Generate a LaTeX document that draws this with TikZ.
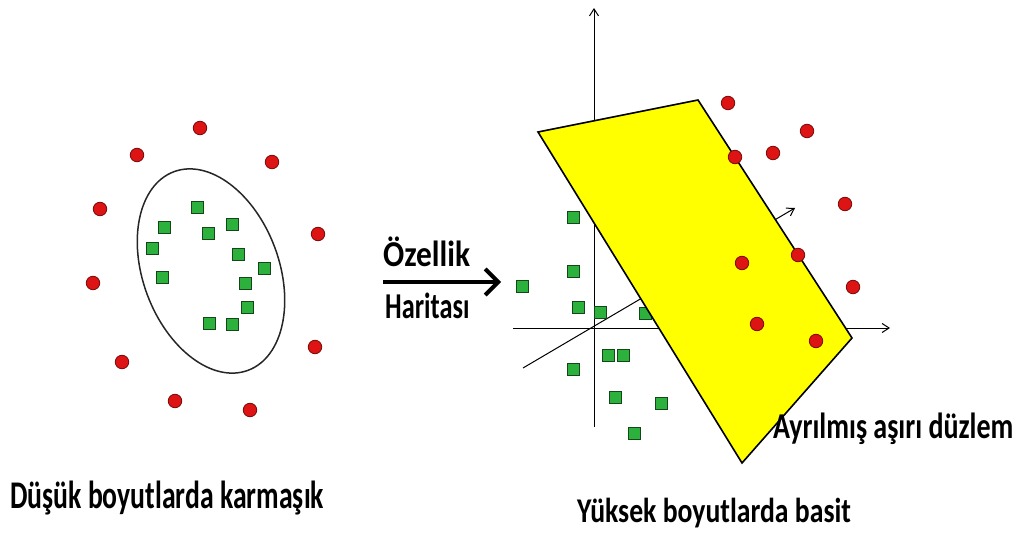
\documentclass[tikz,border=0pt]{standalone}
\usepackage{fontspec}
\setmainfont{Carlito}
\usetikzlibrary{arrows.meta}

\definecolor{dotred}{RGB}{222,20,20}
\definecolor{dotedge}{RGB}{120,10,10}
\definecolor{sqgreen}{RGB}{44,178,60}
\definecolor{sqedge}{RGB}{20,70,25}
\definecolor{planeyellow}{RGB}{255,255,0}

\tikzset{
  reddot/.style={circle, fill=dotred, draw=dotedge, line width=0.8pt,
                 minimum size=13.5pt, inner sep=0pt},
  greensq/.style={rectangle, fill=sqgreen, draw=sqedge, line width=0.8pt,
                  minimum size=12pt, inner sep=0pt},
  axisline/.style={line width=1pt, -{Straight Barb[length=7pt,width=9pt,line width=1pt]}},
  caption/.style={font=\bfseries\fontsize{28}{30}\selectfont, inner sep=0pt, anchor=base west},
  maparrow/.style={line width=4.5pt, -{Straight Barb[length=13pt,width=26pt,line width=4pt]}}
}

\begin{document}
\begin{tikzpicture}[x=1pt, y=-1pt]
\useasboundingbox (0,0) rectangle (1033,537);

% ---------- low-dimensional data ----------
\coordinate (ec) at (211,271);
\draw[line width=1.5pt, black!85, rotate around={110.5:(ec)}]
  (ec) ellipse [x radius=106pt, y radius=68pt];

\foreach \x/\y [count=\i] in {200/128, 137/155, 272/162, 100/209, 318/234,
                              93/283, 315/347, 122/362, 175/401, 250/410}
  \node[reddot] (lr\i) at (\x,\y) {};

\foreach \x/\y [count=\i] in {197/207, 164/227, 232/224, 208/233, 152/248, 238/254,
                              264/268, 162/277, 245/283, 247/307, 209/323, 232/324}
  \node[greensq] (lg\i) at (\x,\y) {};

% ---------- feature map arrow ----------
\coordinate (ms) at (383,282);
\coordinate (me) at (501,282);
\draw[maparrow] (ms) -- (me);
\node[caption] (fm1) at (383,267) {\scalebox{1.12}[1.3]{Özellik}};
\node[caption] (fm2) at (385,318) {\scalebox{0.94}[1.3]{Haritası}};

% ---------- high-dimensional space: axes ----------
\coordinate (o)  at (594,328);
\coordinate (zb) at (594,427);
\coordinate (zt) at (594,8);
\coordinate (xl) at (513,328);
\coordinate (xr) at (890,328);
\coordinate (dl) at (523,368);
\coordinate (dr) at (795,208);
\draw[axisline] (zb) -- (zt);
\draw[axisline] (xl) -- (xr);
\draw[axisline] (dl) -- (dr);

\foreach \x/\y [count=\i] in {573/217, 573/271, 522/286, 578/307, 600/312, 645/313,
                              608/355, 623/355, 573/369, 615/397, 661/403, 634/433}
  \node[greensq] (rg\i) at (\x,\y) {};

% ---------- separating hyperplane ----------
\coordinate (p1) at (538,132);
\coordinate (p2) at (698,100);
\coordinate (p3) at (852,338);
\coordinate (p4) at (742,463);
\draw[fill=planeyellow, line width=1.6pt, line join=miter] (p1) -- (p2) -- (p3) -- (p4) -- cycle;

\foreach \x/\y [count=\i] in {728/103, 807/131, 773/153, 735/157, 845/204,
                              798/255, 742/263, 853/287, 757/324, 816/341}
  \node[reddot] (rr\i) at (\x,\y) {};

% ---------- captions ----------
\node[caption] (hp)  at (773,438) {\scalebox{1}[1.3]{Ayrılmış aşırı düzlem}};
\node[caption] (low) at (10,508)  {\scalebox{0.99}[1.4]{Düşük boyutlarda karmaşık}};
\node[caption] (high) at (577,522) {\scalebox{0.99}[1.24]{Yüksek boyutlarda basit}};
\end{tikzpicture}
\end{document}
